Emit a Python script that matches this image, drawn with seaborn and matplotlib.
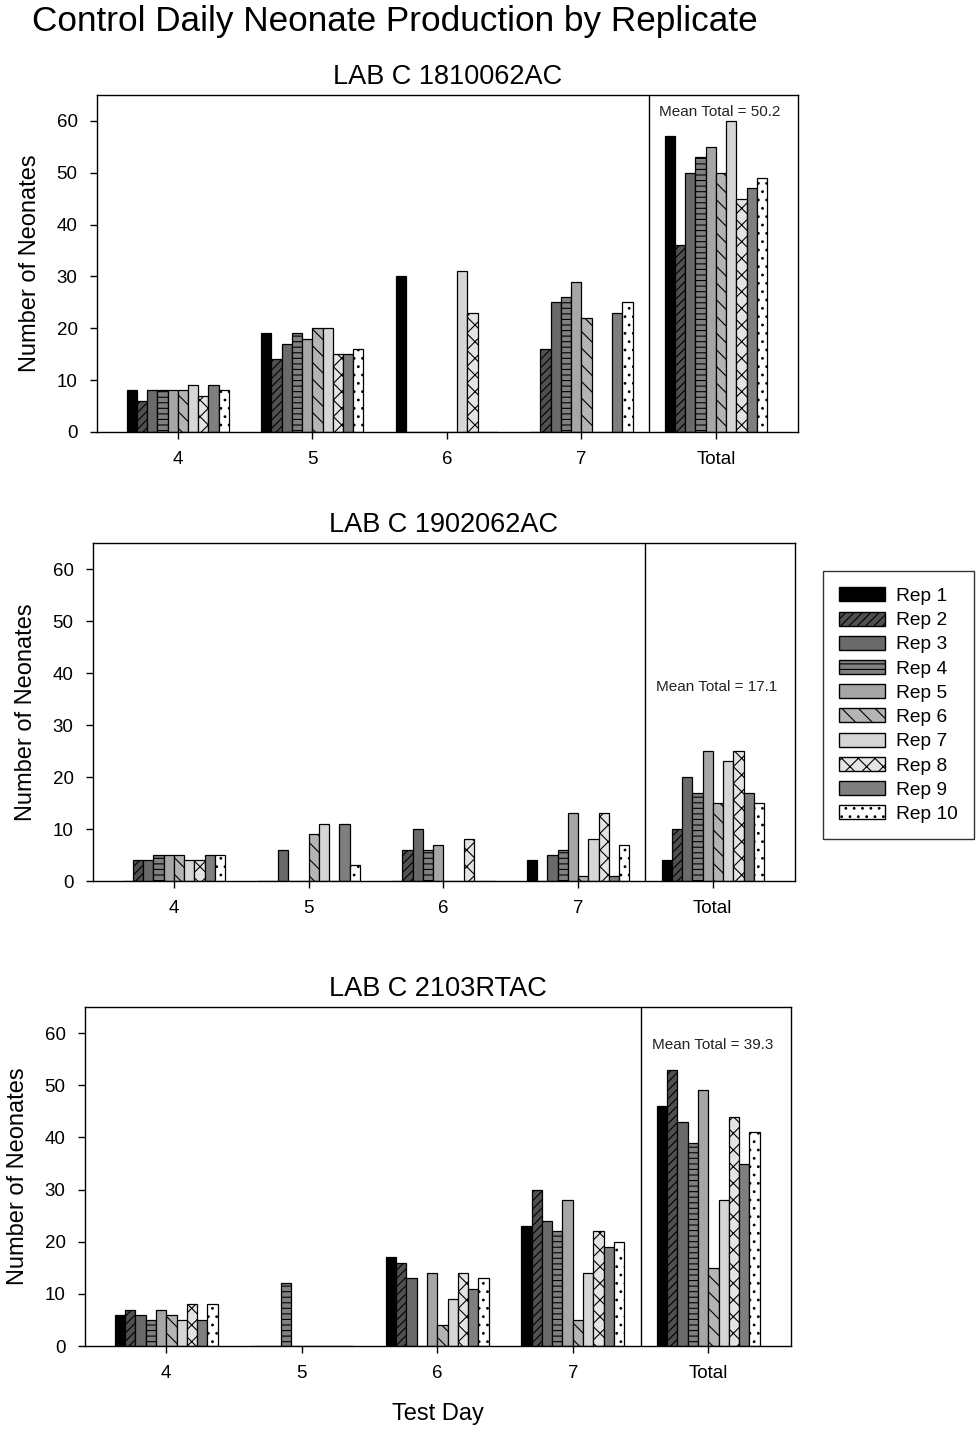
"""
Control daily neonate production by replicate - three labs, grouped bars
with one hatch pattern per replicate (SigmaPlot-style grey scheme).
"""

import numpy as np
import pandas as pd
import seaborn as sns
import matplotlib.pyplot as plt
from matplotlib.patches import Patch

DAYS = ["4", "5", "6", "7", "Total"]
REPS = [f"Rep {i}" for i in range(1, 11)]

# neonates per replicate (Rep 1..10), one list per test day
LAB_1810_DAY4 = [8, 6, 8, 8, 8, 8, 9, 7, 9, 8]
LAB_1810_DAY5 = [19, 14, 17, 19, 18, 20, 20, 15, 15, 16]
LAB_1810_DAY6 = [30, 0, 0, 0, 0, 0, 31, 23, 0, 0]
LAB_1810_DAY7 = [0, 16, 25, 26, 29, 22, 0, 0, 23, 25]
LAB_1810_TOTAL = [57, 36, 50, 53, 55, 50, 60, 45, 47, 49]

LAB_1902_DAY4 = [0, 4, 4, 5, 5, 5, 4, 4, 5, 5]
LAB_1902_DAY5 = [0, 0, 6, 0, 0, 9, 11, 0, 11, 3]
LAB_1902_DAY6 = [0, 6, 10, 6, 7, 0, 0, 8, 0, 0]
LAB_1902_DAY7 = [4, 0, 5, 6, 13, 1, 8, 13, 1, 7]
LAB_1902_TOTAL = [4, 10, 20, 17, 25, 15, 23, 25, 17, 15]

LAB_2103_DAY4 = [6, 7, 6, 5, 7, 6, 5, 8, 5, 8]
LAB_2103_DAY5 = [0, 0, 0, 12, 0, 0, 0, 0, 0, 0]
LAB_2103_DAY6 = [17, 16, 13, 0, 14, 4, 9, 14, 11, 13]
LAB_2103_DAY7 = [23, 30, 24, 22, 28, 5, 14, 22, 19, 20]
LAB_2103_TOTAL = [46, 53, 43, 39, 49, 15, 28, 44, 35, 41]

PANELS = [
    ("LAB C 1810062AC", [LAB_1810_DAY4, LAB_1810_DAY5, LAB_1810_DAY6,
                         LAB_1810_DAY7, LAB_1810_TOTAL]),
    ("LAB C 1902062AC", [LAB_1902_DAY4, LAB_1902_DAY5, LAB_1902_DAY6,
                         LAB_1902_DAY7, LAB_1902_TOTAL]),
    ("LAB C 2103RTAC", [LAB_2103_DAY4, LAB_2103_DAY5, LAB_2103_DAY6,
                        LAB_2103_DAY7, LAB_2103_TOTAL]),
]

REP_COLORS = ["#000000", "#505050", "#6a6a6a", "#808080", "#a6a6a6",
              "#b4b4b4", "#d6d6d6", "#e4e4e4", "#7f7f7f", "#ffffff"]
REP_HATCHES = ["", "////", "", "---", "", "\\\\", "", "xx", "", ".."]

# axes boxes [left, bottom, width, height] in figure fractions
AX_BOXES = [
    [0.099, 0.6994, 0.7153, 0.2345],
    [0.0949, 0.3869, 0.7163, 0.2352],
    [0.0867, 0.0633, 0.7204, 0.2359],
]
MEAN_TEXT_Y = [61.8, 37.3, 57.7]


def to_long(rows):
    recs = []
    for day, vals in zip(DAYS, rows):
        for rep, v in zip(REPS, vals):
            recs.append({"day": day, "rep": rep, "n": v})
    return pd.DataFrame(recs)


def main():
    sns.set_style("white")
    plt.rcParams["font.family"] = ["Liberation Sans", "DejaVu Sans"]
    plt.rcParams["hatch.linewidth"] = 0.8
    for key in ("text.color", "axes.labelcolor", "xtick.color", "ytick.color"):
        plt.rcParams[key] = "black"

    fig = plt.figure(figsize=(9.8, 14.37), dpi=100)
    fig.text(32 / 980, 1 - 21 / 1437,
             "Control Daily Neonate Production by Replicate",
             ha="left", va="center", fontsize=25.3)

    for k, (title, rows) in enumerate(PANELS):
        ax = fig.add_axes(AX_BOXES[k])
        df = to_long(rows)
        sns.barplot(data=df, x="day", y="n", hue="rep", order=DAYS,
                    hue_order=REPS, palette=REP_COLORS, width=0.76,
                    edgecolor="black", linewidth=0.9, saturation=1,
                    legend=False, ax=ax)
        for cont, h in zip(ax.containers, REP_HATCHES):
            for bar in cont:
                bar.set_hatch(h)

        ax.axvline(3.5, color="black", lw=1)
        ax.set_xlim(-0.6, 4.61)
        ax.set_ylim(0, 65)
        ax.set_yticks(range(0, 61, 10))
        ax.set_title(title, fontsize=19.5, pad=8)
        ax.set_ylabel("Number of Neonates", fontsize=17, labelpad=11)
        ax.set_xlabel("Test Day" if k == 2 else "", fontsize=17, labelpad=15)
        ax.tick_params(axis="both", labelsize=13.5, length=5, width=1,
                       direction="out", pad=9, left=True, bottom=True)
        for sp in ax.spines.values():
            sp.set_color("black")
            sp.set_linewidth(1)

        mean_total = np.mean(rows[-1])
        ax.text(4.03, MEAN_TEXT_Y[k], f"Mean Total = {mean_total:.1f}",
                ha="center", va="center", fontsize=11, color="#222222")

    handles = [Patch(facecolor=c, edgecolor="black", hatch=h, label=r)
               for c, h, r in zip(REP_COLORS, REP_HATCHES, REPS)]
    leg = fig.legend(handles=handles, loc="upper left",
                     bbox_to_anchor=(823 / 980, 1 - 571 / 1437),
                     borderaxespad=0, frameon=True, fancybox=False,
                     fontsize=13.8, handlelength=2.4, handleheight=0.75,
                     labelspacing=0.34, handletextpad=0.55,
                     borderpad=0.85)
    leg.get_frame().set_edgecolor("black")
    leg.get_frame().set_linewidth(1)

    fig.savefig("out.png", dpi=100)


if __name__ == "__main__":
    main()
